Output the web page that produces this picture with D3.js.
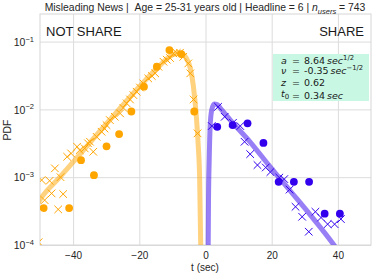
<!DOCTYPE html>
<html>
<head>
<meta charset="utf-8">
<script src="https://cdn.jsdelivr.net/npm/d3@7"></script>
<style>
  body { margin: 0; background: #fff; }
  svg { display: block; font-family: "Liberation Sans", Arial, sans-serif; }
</style>
</head>
<body>
<svg></svg>
<script>
// --- data ---
const notShareDotT = [-48.9, -41.2, -37.6, -33.7, -29.9, -26.1, -22.4, -18.6, -14.7, -10.9, -7.3, -3.4];
const notShareDotP = [3.5e-4, 3.5e-4, 1.78e-3, 1.07e-3, 2.85e-3, 4.33e-3, 9.3e-3, 0.0216, 0.0425, 0.075, 0.0655, 9.3e-3];

const notShareCrossT = [-50.4, -49.5, -48.6, -47.1, -46.5, -45.5, -44.5, -43.8, -43.0, -41.8, -40.6, -38.8, -38.0, -36.5,
  -35.5, -34.9, -33.9, -32.9, -31.4, -30.5, -29.9, -28.9, -27.4, -25.8, -24.8, -23.8, -22.8, -21.8, -20.8, -19.8, -18.8,
  -17.3, -16.2, -15.2, -14.2, -12.7, -11.7, -10.7, -9.7, -8.7, -7.7, -6.7, -5.2, -4.6, -3.6, -2.4];
const notShareCrossP = [1.1e-4, 9.06e-4, 4.59e-4, 8.85e-4, 5.77e-4, 1.35e-3, 3.35e-4, 1.0e-3, 5.64e-4, 2.0e-3, 2.24e-3, 2.81e-3, 2.51e-3, 2.66e-3,
  3.16e-3, 3.33e-3, 2.37e-3, 3.94e-3, 4.68e-3, 5.2e-3, 5.86e-3, 6.95e-3, 7.78e-3, 8.73e-3, 0.0105, 0.01225, 0.014, 0.01626, 0.0182, 0.021, 0.0242,
  0.0286, 0.031, 0.034, 0.0425, 0.0504, 0.054, 0.0571, 0.067, 0.068, 0.0684, 0.0597, 0.0476, 0.034, 0.014, 4.43e-3];

const notShareFitT = [-51, -50.1, -44.0, -37.9, -31.9, -25.8, -19.8, -13.7, -10.1, -7.7, -5.8, -4.6, -3.7, -2.8, -2.2, -1.76, -1.45, -1.3];
const notShareFitP = [3.9e-4, 4.6e-4, 1.0e-3, 2.19e-3, 4.79e-3, 0.0104, 0.0221, 0.045, 0.0633, 0.0676, 0.0571, 0.0406, 0.0228, 0.0082, 0.00297, 9.1e-4, 1e-4, 5e-5];

const shareDotT = [3.55, 8.2, 12.7, 17.5, 22.1, 26.7, 31.3, 36.0, 40.6];
const shareDotP = [5.53e-3, 5.86e-3, 6.22e-3, 3.2e-3, 8.55e-4, 8.55e-4, 8.55e-4, 2.9e-4, 2.9e-4];

const shareCrossT = [1.9, 3.8, 5.8, 8.3, 10.5, 11.8, 13.5, 15.7, 18.2, 19.6, 22.3, 23.8, 25.4, 27.2, 29.2, 31.2, 33.2, 34.9, 36.9, 39.0, 40.9];
const shareCrossP = [5.68e-3, 0.0109, 7.78e-3, 6.34e-3, 5.68e-3, 3.33e-3, 2.19e-3, 1.51e-3, 1.39e-3, 1.19e-3, 9.86e-4, 9.38e-4, 6.56e-4,
  3.66e-4, 2.61e-4, 1.57e-4, 3.09e-4, 2.54e-4, 2.03e-4, 2.03e-4, 2.41e-4];

const shareFitT = [0.75, 0.82, 0.91, 1.12, 1.42, 1.88, 2.64, 3.55, 4.45, 7.5, 13.5, 19.6, 25.7, 31.7, 38.8, 41];
const shareFitP = [5e-5, 1e-4, 4.6e-4, 1.79e-3, 5.86e-3, 9.8e-3, 0.012, 0.0118, 0.01045, 6.95e-3, 3.3e-3, 1.41e-3, 6.2e-4, 2.76e-4, 1e-4, 7e-5];

const xTicks = [-40, -20, 0, 20, 40];
const yTicks = [1e-4, 1e-3, 1e-2, 1e-1];
const yTickExp = ['\u22124', '\u22123', '\u22122', '\u22121'];
const paramNames = ['a', '\u03bd', 'z', 't'];
const paramValues = ['8.64', '-0.35', '0.62', '0.34'];

// --- layout ---
const [W, H] = [374, 275];
const plot = { left: 40, right: 371, top: 14, bottom: 245 };
const orange = '#ffa500';
const blue = '#3300ee';

const svg = d3.select('svg').attr('width', W).attr('height', H);

const x = d3.scaleLinear().domain([-50, 50]).range([plot.left, plot.right]);
const y = d3.scaleLog().domain([1e-4, 0.255]).range([plot.bottom, plot.top]);

svg.append('clipPath').attr('id', 'clip')
  .append('rect')
  .attr('x', plot.left).attr('y', plot.top)
  .attr('width', plot.right - plot.left).attr('height', plot.bottom - plot.top);

// grid
const gx = svg.append('g')
  .attr('transform', `translate(0, ${plot.bottom})`)
  .call(d3.axisBottom(x).tickValues(xTicks).tickSize(-(plot.bottom - plot.top))
    .tickFormat(d => d < 0 ? '\u2212' + Math.abs(d) : d));
gx.select('.domain').remove();
gx.selectAll('line').attr('stroke', '#dcdcdc').attr('stroke-width', 1);
gx.selectAll('text').attr('fill', '#262626').attr('font-size', 10).attr('y', 0).attr('dy', 13.5)
  .attr('font-family', '"Liberation Sans", Arial, sans-serif');

const gy = svg.append('g')
  .attr('transform', `translate(${plot.left}, 0)`)
  .call(d3.axisLeft(y).tickValues(yTicks).tickSize(-(plot.right - plot.left)).tickFormat(() => ''));
gy.select('.domain').remove();
gy.selectAll('line').attr('stroke', '#dcdcdc').attr('stroke-width', 1);
gy.selectAll('.tick text').each(function(d, i) {
  const t = d3.select(this)
    .attr('fill', '#262626').attr('font-size', 10.5).attr('x', -6).attr('dy', '0.35em')
    .attr('text-anchor', 'end')
    .attr('font-family', '"Liberation Sans", Arial, sans-serif');
  t.append('tspan').text('10');
  t.append('tspan').attr('font-size', 7.5).attr('dy', '-0.55em').text(yTickExp[i]);
});

svg.append('rect')
  .attr('x', plot.left).attr('y', plot.top)
  .attr('width', plot.right - plot.left).attr('height', plot.bottom - plot.top)
  .attr('fill', 'none').attr('stroke', '#d6d6d6');

// marks
const marks = svg.append('g').attr('clip-path', 'url(#clip)');
const line = d3.line().x(d => x(d[0])).y(d => y(d[1])).curve(d3.curveMonotoneX);

marks.append('path')
  .attr('d', line(d3.zip(notShareFitT, notShareFitP)))
  .attr('fill', 'none').attr('stroke', orange).attr('stroke-opacity', 0.5).attr('stroke-width', 5);
marks.append('path')
  .attr('d', line(d3.zip(shareFitT, shareFitP)))
  .attr('fill', 'none').attr('stroke', blue).attr('stroke-opacity', 0.5).attr('stroke-width', 5);

const cross = (g, ts, ps, color) => {
  const s = 3.8;
  g.selectAll(null).data(d3.zip(ts, ps)).enter()
    .append('path')
    .attr('d', d => {
      const [cx, cy] = [x(d[0]), y(d[1])];
      return `M${cx - s},${cy - s}L${cx + s},${cy + s}M${cx - s},${cy + s}L${cx + s},${cy - s}`;
    })
    .attr('stroke', color).attr('stroke-width', 1).attr('fill', 'none');
};
cross(marks, notShareCrossT, notShareCrossP, orange);
cross(marks, shareCrossT, shareCrossP, blue);

const dots = (g, ts, ps, color) => {
  g.selectAll(null).data(d3.zip(ts, ps)).enter()
    .append('circle')
    .attr('cx', d => x(d[0])).attr('cy', d => y(d[1])).attr('r', 3.9)
    .attr('fill', color);
};
dots(marks, notShareDotT, notShareDotP, orange);
dots(marks, shareDotT, shareDotP, blue);

// labels
svg.append('text').attr('x', 46).attr('y', 36).attr('font-size', 13).attr('fill', '#1a1a1a').text('NOT SHARE');
svg.append('text').attr('x', 364).attr('y', 36).attr('font-size', 13).attr('fill', '#1a1a1a')
  .attr('text-anchor', 'end').text('SHARE');

const title = svg.append('text').attr('x', 205).attr('y', 11).attr('font-size', 10.4)
  .attr('text-anchor', 'middle').attr('fill', '#262626');
title.append('tspan').text('Misleading News |\u00a0\u00a0Age = 25-31 years old | Headline = 6 | ');
title.append('tspan').attr('font-style', 'italic').text('n');
title.append('tspan').attr('font-style', 'italic').attr('font-size', 7.5).attr('dy', 2.5).text('users');
title.append('tspan').attr('dy', -2.5).text(' = 743');

svg.append('text').attr('x', 205).attr('y', 271).attr('font-size', 10)
  .attr('text-anchor', 'middle').attr('fill', '#262626').text('t (sec)');
svg.append('text').attr('transform', 'translate(11, 130) rotate(-90)').attr('font-size', 10.5)
  .attr('text-anchor', 'middle').attr('fill', '#262626').text('PDF');

// parameter box
const box = svg.append('g').attr('font-family', '"DejaVu Sans", sans-serif').attr('font-size', 9.5).attr('fill', '#1a1a1a');
box.append('rect').attr('x', 273).attr('y', 54).attr('width', 96).attr('height', 47).attr('fill', '#c8f8e4');
const rowsY = [63.5, 74, 86, 97];
const units = [['sec', '1/2'], ['sec', '\u22121/2'], null, ['sec', null]];
paramNames.forEach((name, i) => {
  const r = box.append('text').attr('y', rowsY[i]);
  r.append('tspan').attr('x', 281).attr('font-style', 'italic').text(name);
  if (i === 3) {
    r.append('tspan').attr('font-size', 7).attr('dy', 2).text('0');
    r.append('tspan').attr('dy', -2).text('');
  }
  r.append('tspan').attr('x', 292).text('=');
  r.append('tspan').attr('x', 304).text(paramValues[i]);
  if (units[i]) {
    r.append('tspan').attr('font-style', 'italic').text('\u2009' + units[i][0]);
    if (units[i][1]) {
      r.append('tspan').attr('font-size', 6.8).attr('dy', -4).text(units[i][1]);
    }
  }
});
</script>
</body>
</html>
